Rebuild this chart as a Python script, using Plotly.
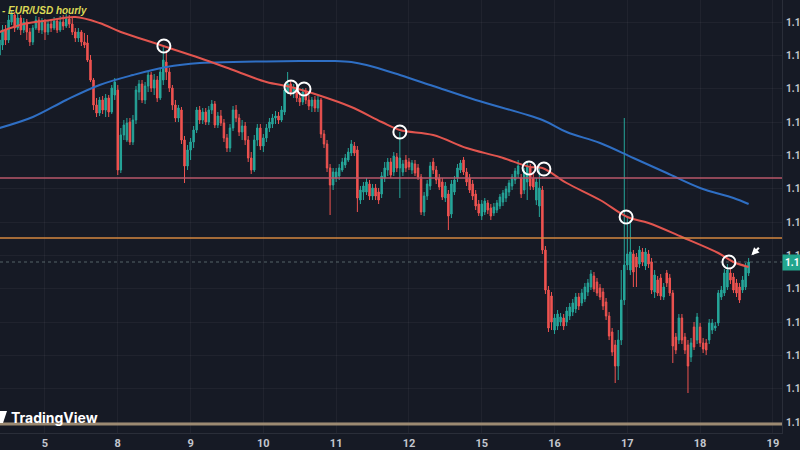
import plotly.graph_objects as go

# ---------------- data (EUR/USD hourly candles) ----------------
open_ = [
1.19101,1.19131,1.19176,1.19146,1.19200,1.19221,1.19182,1.19212,1.19176,1.19200,
1.19170,1.19140,1.19182,1.19206,1.19176,1.19200,1.19170,1.19194,1.19182,1.19203,
1.19176,1.19200,1.19188,1.19209,1.19194,1.19170,1.19152,1.19170,1.19140,1.19137,
1.19086,1.19026,1.18951,1.18927,1.18966,1.18936,1.18972,1.18930,1.18981,1.18996,
1.18756,1.18861,1.18846,1.18900,1.18840,1.18906,1.18990,1.19014,1.18966,1.19008,
1.19041,1.19002,1.19026,1.18972,1.19026,1.19080,1.19050,1.19002,1.18951,1.18912,
1.18936,1.18846,1.18768,1.18816,1.18840,1.18876,1.18936,1.18906,1.18930,1.18900,
1.18936,1.18954,1.18891,1.18918,1.18897,1.18852,1.18822,1.18882,1.18936,1.18912,
1.18870,1.18888,1.18846,1.18792,1.18756,1.18846,1.18882,1.18828,1.18852,1.18882,
1.18894,1.18912,1.18918,1.18906,1.18930,1.18990,1.19014,1.18990,1.19002,1.18972,
1.18960,1.18990,1.18966,1.18948,1.18966,1.18942,1.18966,1.18864,1.18834,1.18762,
1.18711,1.18732,1.18738,1.18756,1.18771,1.18786,1.18807,1.18828,1.18816,1.18666,
1.18690,1.18690,1.18714,1.18678,1.18702,1.18690,1.18684,1.18732,1.18756,1.18780,
1.18750,1.18795,1.18762,1.18750,1.18786,1.18780,1.18756,1.18774,1.18762,1.18735,
1.18630,1.18678,1.18708,1.18780,1.18756,1.18732,1.18720,1.18672,1.18684,1.18624,
1.18690,1.18732,1.18756,1.18786,1.18750,1.18732,1.18714,1.18684,1.18654,1.18618,
1.18630,1.18657,1.18642,1.18627,1.18636,1.18648,1.18660,1.18672,1.18690,1.18708,
1.18726,1.18744,1.18732,1.18696,1.18720,1.18762,1.18732,1.18666,1.18648,1.18696,
1.18516,1.18396,1.18378,1.18276,1.18288,1.18300,1.18312,1.18300,1.18318,1.18330,
1.18339,1.18375,1.18357,1.18369,1.18390,1.18405,1.18438,1.18420,1.18402,1.18390,
1.18360,1.18318,1.18270,1.18231,1.18168,1.18246,1.18366,1.18471,1.18456,1.18504,
1.18495,1.18474,1.18510,1.18468,1.18504,1.18480,1.18390,1.18426,1.18432,1.18375,
1.18447,1.18432,1.18387,1.18255,1.18246,1.18312,1.18255,1.18231,1.18195,1.18285,
1.18246,1.18285,1.18237,1.18237,1.18246,1.18276,1.18282,1.18297,1.18375,1.18387,
1.18405,1.18447,1.18435,1.18417,1.18405,1.18396,1.18405,1.18447]

high = [
1.19161,1.19191,1.19191,1.19221,1.19236,1.19230,1.19224,1.19221,1.19212,1.19209,
1.19182,1.19191,1.19218,1.19215,1.19212,1.19209,1.19206,1.19203,1.19215,1.19212,
1.19218,1.19221,1.19224,1.19221,1.19212,1.19182,1.19182,1.19176,1.19167,1.19161,
1.19101,1.19032,1.18972,1.18975,1.18978,1.18984,1.18981,1.19011,1.19032,1.19011,
1.18882,1.18906,1.18912,1.18912,1.18921,1.19008,1.19026,1.19026,1.19020,1.19053,
1.19050,1.19044,1.19038,1.19062,1.19125,1.19116,1.19062,1.19011,1.18966,1.18951,
1.18945,1.18858,1.18831,1.18852,1.18888,1.18945,1.18948,1.18942,1.18942,1.18948,
1.18966,1.18963,1.18930,1.18936,1.18909,1.18864,1.18894,1.18948,1.18951,1.18924,
1.18906,1.18900,1.18858,1.18810,1.18861,1.18894,1.18894,1.18864,1.18894,1.18912,
1.18924,1.18933,1.18930,1.18948,1.19008,1.19050,1.19026,1.19014,1.19014,1.18990,
1.19002,1.19002,1.18981,1.18975,1.18978,1.18978,1.18972,1.18876,1.18846,1.18774,
1.18762,1.18762,1.18774,1.18792,1.18804,1.18822,1.18846,1.18840,1.18828,1.18708,
1.18720,1.18732,1.18726,1.18714,1.18714,1.18702,1.18750,1.18780,1.18792,1.18792,
1.18810,1.18807,1.18870,1.18786,1.18801,1.18792,1.18786,1.18786,1.18774,1.18744,
1.18690,1.18726,1.18780,1.18792,1.18768,1.18744,1.18732,1.18720,1.18696,1.18726,
1.18738,1.18774,1.18786,1.18795,1.18762,1.18744,1.18726,1.18696,1.18666,1.18666,
1.18672,1.18666,1.18654,1.18657,1.18666,1.18684,1.18696,1.18708,1.18726,1.18744,
1.18762,1.18786,1.18744,1.18762,1.18780,1.18774,1.18744,1.18732,1.18771,1.18708,
1.18528,1.18408,1.18390,1.18324,1.18336,1.18327,1.18324,1.18345,1.18357,1.18369,
1.18387,1.18387,1.18399,1.18417,1.18429,1.18456,1.18450,1.18432,1.18414,1.18402,
1.18372,1.18330,1.18282,1.18246,1.18276,1.18456,1.18912,1.18615,1.18606,1.18516,
1.18507,1.18528,1.18522,1.18522,1.18516,1.18492,1.18456,1.18438,1.18444,1.18417,
1.18456,1.18444,1.18396,1.18267,1.18324,1.18324,1.18267,1.18246,1.18252,1.18300,
1.18327,1.18297,1.18252,1.18249,1.18309,1.18309,1.18300,1.18396,1.18408,1.18459,
1.18474,1.18462,1.18447,1.18429,1.18417,1.18438,1.18477,1.18492]

low = [
1.19092,1.19116,1.19131,1.19137,1.19191,1.19170,1.19176,1.19161,1.19167,1.19146,
1.19128,1.19131,1.19176,1.19167,1.19164,1.19146,1.19161,1.19170,1.19176,1.19167,
1.19170,1.19176,1.19182,1.19182,1.19161,1.19140,1.19140,1.19128,1.19122,1.19080,
1.19020,1.18936,1.18915,1.18918,1.18924,1.18915,1.18915,1.18924,1.18966,1.18741,
1.18747,1.18846,1.18840,1.18831,1.18831,1.18894,1.18966,1.18957,1.18954,1.18990,
1.18990,1.18981,1.18960,1.18966,1.19011,1.19026,1.18990,1.18936,1.18900,1.18900,
1.18834,1.18717,1.18756,1.18786,1.18822,1.18867,1.18894,1.18894,1.18891,1.18891,
1.18924,1.18882,1.18882,1.18888,1.18840,1.18810,1.18810,1.18873,1.18900,1.18858,
1.18846,1.18831,1.18780,1.18744,1.18750,1.18828,1.18816,1.18810,1.18840,1.18870,
1.18882,1.18894,1.18894,1.18900,1.18921,1.18984,1.18978,1.18972,1.18960,1.18948,
1.18951,1.18954,1.18936,1.18930,1.18930,1.18930,1.18852,1.18822,1.18750,1.18621,
1.18696,1.18720,1.18726,1.18750,1.18762,1.18780,1.18798,1.18798,1.18630,1.18654,
1.18666,1.18681,1.18666,1.18666,1.18666,1.18654,1.18672,1.18720,1.18738,1.18732,
1.18738,1.18750,1.18672,1.18738,1.18750,1.18756,1.18744,1.18738,1.18726,1.18621,
1.18618,1.18666,1.18696,1.18744,1.18714,1.18696,1.18666,1.18660,1.18576,1.18612,
1.18681,1.18720,1.18747,1.18741,1.18708,1.18687,1.18666,1.18636,1.18618,1.18606,
1.18621,1.18624,1.18606,1.18618,1.18627,1.18639,1.18648,1.18660,1.18678,1.18696,
1.18714,1.18732,1.18672,1.18684,1.18666,1.18696,1.18696,1.18651,1.18615,1.18504,
1.18384,1.18270,1.18276,1.18264,1.18276,1.18288,1.18276,1.18288,1.18306,1.18318,
1.18327,1.18336,1.18348,1.18360,1.18378,1.18396,1.18390,1.18378,1.18366,1.18336,
1.18306,1.18246,1.18198,1.18117,1.18126,1.18231,1.18351,1.18456,1.18441,1.18405,
1.18405,1.18462,1.18468,1.18456,1.18462,1.18384,1.18372,1.18378,1.18366,1.18366,
1.18405,1.18378,1.18177,1.18204,1.18234,1.18234,1.18204,1.18087,1.18180,1.18216,
1.18234,1.18225,1.18207,1.18201,1.18234,1.18264,1.18273,1.18288,1.18366,1.18378,
1.18396,1.18414,1.18387,1.18375,1.18357,1.18387,1.18396,1.18438]

close = [
1.19146,1.19176,1.19146,1.19206,1.19224,1.19182,1.19212,1.19176,1.19200,1.19170,
1.19140,1.19182,1.19206,1.19176,1.19200,1.19170,1.19194,1.19182,1.19203,1.19176,
1.19200,1.19188,1.19209,1.19194,1.19170,1.19152,1.19170,1.19140,1.19131,1.19086,
1.19026,1.18951,1.18927,1.18966,1.18936,1.18972,1.18930,1.19002,1.19020,1.18756,
1.18861,1.18891,1.18897,1.18840,1.18906,1.18996,1.19014,1.18966,1.19008,1.19041,
1.19002,1.19026,1.18972,1.19050,1.19086,1.19050,1.19002,1.18951,1.18912,1.18942,
1.18846,1.18768,1.18816,1.18840,1.18876,1.18936,1.18906,1.18930,1.18900,1.18936,
1.18954,1.18891,1.18918,1.18897,1.18852,1.18822,1.18882,1.18936,1.18912,1.18870,
1.18888,1.18846,1.18792,1.18756,1.18846,1.18882,1.18828,1.18852,1.18882,1.18900,
1.18912,1.18918,1.18906,1.18936,1.18996,1.19014,1.18990,1.19002,1.18972,1.18960,
1.18990,1.18966,1.18948,1.18966,1.18942,1.18966,1.18864,1.18834,1.18762,1.18711,
1.18750,1.18750,1.18762,1.18780,1.18792,1.18810,1.18834,1.18807,1.18672,1.18696,
1.18708,1.18720,1.18678,1.18702,1.18678,1.18666,1.18738,1.18762,1.18780,1.18741,
1.18798,1.18762,1.18792,1.18774,1.18762,1.18765,1.18777,1.18747,1.18735,1.18630,
1.18678,1.18714,1.18768,1.18756,1.18726,1.18705,1.18675,1.18708,1.18618,1.18714,
1.18726,1.18762,1.18777,1.18750,1.18720,1.18696,1.18678,1.18648,1.18627,1.18654,
1.18663,1.18636,1.18618,1.18645,1.18657,1.18675,1.18687,1.18699,1.18717,1.18735,
1.18753,1.18768,1.18684,1.18750,1.18765,1.18708,1.18705,1.18720,1.18702,1.18516,
1.18396,1.18282,1.18300,1.18312,1.18324,1.18315,1.18288,1.18333,1.18345,1.18357,
1.18375,1.18348,1.18387,1.18405,1.18417,1.18444,1.18399,1.18387,1.18375,1.18348,
1.18318,1.18258,1.18210,1.18168,1.18246,1.18366,1.18471,1.18504,1.18510,1.18450,
1.18465,1.18516,1.18480,1.18510,1.18474,1.18396,1.18441,1.18387,1.18378,1.18405,
1.18417,1.18387,1.18228,1.18216,1.18312,1.18246,1.18216,1.18168,1.18237,1.18225,
1.18315,1.18237,1.18219,1.18216,1.18297,1.18297,1.18288,1.18387,1.18396,1.18447,
1.18456,1.18426,1.18396,1.18387,1.18366,1.18426,1.18465,1.18480]

# moving averages (hour index, price)
ma_red_hours = [-15, -7, 2, 10, 18, 25, 33, 40, 51, 62, 73, 81, 90, 101, 111, 117,
                128, 139, 150, 160, 164, 172, 183, 192, 199, 210, 222, 227, 232]
ma_red = [1.19170, 1.19194, 1.19206, 1.19215, 1.19197, 1.19170, 1.19146, 1.19125,
          1.19092, 1.19056, 1.19020, 1.19005, 1.18981, 1.18945, 1.18900, 1.18876,
          1.18861, 1.18822, 1.18795, 1.18765, 1.18762, 1.18717, 1.18666, 1.18615,
          1.18597, 1.18555, 1.18507, 1.18480, 1.18465]
ma_blue_hours = [-15, -4, 7, 18, 29, 40, 51, 62, 84, 95, 101, 106, 117, 128, 142,
                 164, 172, 183, 194, 205, 216, 227, 232]
ma_blue = [1.18882, 1.18915, 1.18966, 1.19011, 1.19041, 1.19065, 1.19077, 1.19080,
           1.19083, 1.19083, 1.19080, 1.19071, 1.19041, 1.19008, 1.18966, 1.18906,
           1.18870, 1.18837, 1.18792, 1.18747, 1.18702, 1.18672, 1.18654]

# touch points marked with circles
touch_hours = [39.2, 81.1, 85.4, 117.0, 159.6, 164.5, 191.6, 225.5]
touch_prices = [1.19128, 1.19005, 1.18999, 1.18870, 1.18762, 1.18759, 1.18615, 1.18480]

# horizontal levels
level_red = 1.18732
level_orange = 1.18552
level_tan = 1.17994

day_ticks = [0, 24, 48, 72, 96, 120, 144, 168, 192, 216, 240]
day_labels = ["5", "8", "9", "10", "11", "12", "15", "16", "17", "18", "19"]
price_ticks = [1.180, 1.181, 1.182, 1.183, 1.184, 1.185, 1.186, 1.187, 1.188,
               1.189, 1.190, 1.191, 1.192]
# the price scale is cropped at the right edge of the screenshot: only "1.1" shows
price_labels = ["1.1"] * len(price_ticks)
last_label = "1.1"

hours = list(range(-15, -15 + len(close)))
last_price = close[-1]

# ---------------- styles ----------------
BG = "#161a25"
GRID = "rgba(255,255,255,0.045)"
BORDER = "#2a2e39"
GREEN = "#26a69a"
RED = "#ef5350"
TXT = "#c3c6ce"

fig = go.Figure()

fig.add_trace(go.Scatter(x=ma_blue_hours, y=ma_blue, mode="lines",
                         line=dict(color="#2f6fc4", width=2, shape="spline"),
                         hoverinfo="skip"))

fig.add_trace(go.Candlestick(
    x=hours, open=open_, high=high, low=low, close=close,
    increasing=dict(line=dict(color=GREEN, width=1), fillcolor=GREEN),
    decreasing=dict(line=dict(color=RED, width=1), fillcolor=RED),
    whiskerwidth=0, hoverinfo="skip"))

fig.add_trace(go.Scatter(x=ma_red_hours, y=ma_red, mode="lines",
                         line=dict(color="#e2554f", width=2, shape="spline"),
                         hoverinfo="skip"))

fig.add_trace(go.Scatter(x=touch_hours, y=touch_prices, mode="markers",
                         marker=dict(symbol="circle-open", size=13,
                                     line=dict(color="white", width=2), color="white"),
                         hoverinfo="skip"))

# levels
fig.add_hline(y=level_red, line=dict(color="#b9576a", width=1.5))
fig.add_hline(y=level_orange, line=dict(color="#d4873f", width=1.5))
fig.add_hline(y=level_tan, line=dict(color="#9c8a72", width=3))
fig.add_hline(y=last_price, line=dict(color="rgba(140,160,160,0.55)", width=1, dash="dot"),
              layer="below")

# arrow to the last candle
fig.add_annotation(x=hours[-1] + 0.9, y=high[-1] + 0.00008, xref="x", yref="y",
                   ax=9, ay=-9, showarrow=True, arrowhead=2, arrowsize=0.7,
                   arrowwidth=2.2, arrowcolor="white", text="")

# price label on axis
fig.add_annotation(x=1, xref="paper", xanchor="left", xshift=0,
                   y=last_price, yref="y", text=last_label, showarrow=False,
                   bgcolor="#22a68e", font=dict(color="white", size=10, family="Roboto",
                                                weight="bold"),
                   borderpad=2)

# title
fig.add_annotation(x=0, xref="paper", xanchor="left", y=1 - 11 / 433,
                   yref="paper", yanchor="middle", showarrow=False,
                   text="- EUR/USD hourly",
                   font=dict(color="#dcd956", size=10, family="Liberation Sans",
                             style="italic", weight="bold"))

# watermark
fig.add_annotation(x=9 / 782, xref="paper", xanchor="left", y=(433 - 417) / 433,
                   yref="paper", yanchor="middle", showarrow=False,
                   text="TradingView",
                   font=dict(color="white", size=14, family="Inter", weight="bold"))
fig.add_shape(type="path", xref="paper", yref="paper",
              path="M 0,{a} L {b},{a} L {c},{d} L 0,{d} Z".format(
                  a=(433 - 411) / 433, b=7 / 782, c=3 / 782, d=(433 - 423) / 433),
              fillcolor="white", line=dict(width=0))

fig.update_layout(
    width=800, height=450,
    margin=dict(l=0, r=18, t=0, b=17),
    paper_bgcolor=BG, plot_bgcolor=BG,
    showlegend=False, hovermode=False,
)
fig.update_xaxes(
    range=[-14.835, 243.0], tickvals=day_ticks, ticktext=day_labels,
    showgrid=True, gridcolor=GRID, zeroline=False, automargin=False,
    showline=True, linecolor=BORDER, linewidth=1,
    rangeslider_visible=False, ticks="",
    tickfont=dict(color=TXT, size=11, family="Roboto", weight="bold"),
)
fig.update_yaxes(
    side="right", range=[1.17967, 1.19266], tickvals=price_ticks, ticktext=price_labels,
    showgrid=True, gridcolor=GRID, zeroline=False, automargin=False,
    showline=True, linecolor=BORDER, linewidth=1, ticks="",
    ticklabelstandoff=1,
    tickfont=dict(color=TXT, size=10, family="Roboto", weight="bold"),
)

fig.write_html("out.html")
